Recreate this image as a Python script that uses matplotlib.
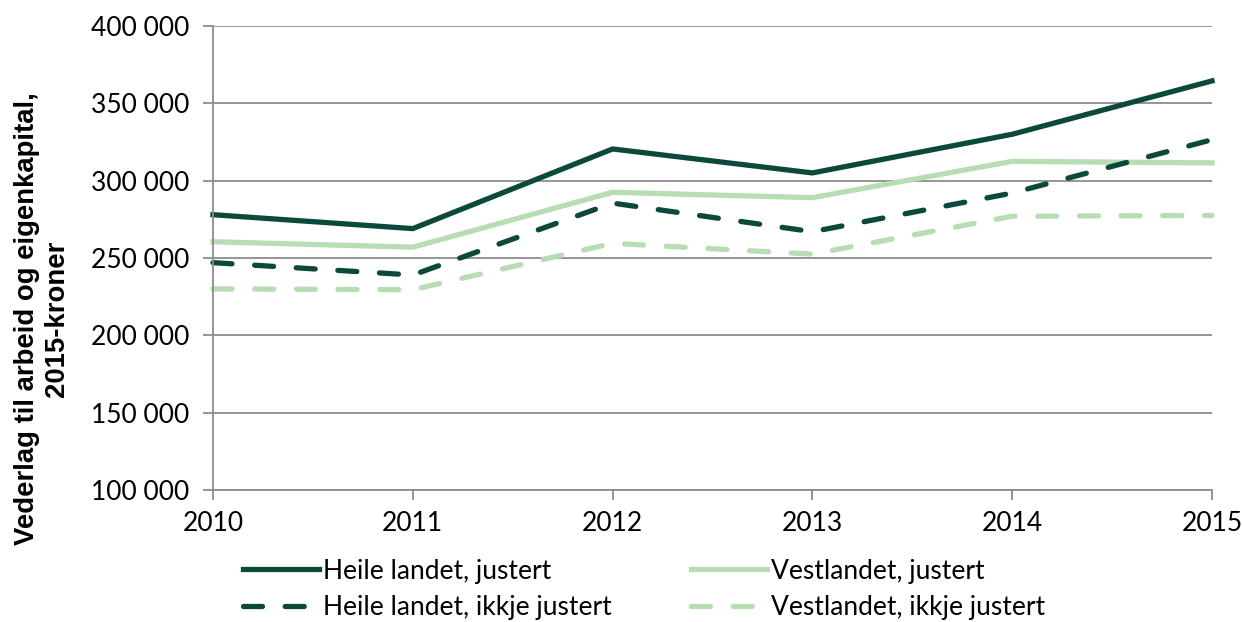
import numpy as np
import matplotlib.pyplot as plt
from matplotlib.ticker import MultipleLocator, FuncFormatter

# verdiar lest av figuren
aar = [2010, 2011, 2012, 2013, 2014, 2015]
heile_justert = [278000, 269000, 320500, 305000, 330000, 364500]
vest_justert = [260500, 257000, 292500, 289000, 312500, 311500]
heile_ikkje = [247000, 239000, 285500, 267000, 292000, 326500]
vest_ikkje = [230000, 229500, 259500, 252500, 277000, 277500]

mork = '#0b4a3b'
lys = '#b8dcb4'

fig = plt.figure(figsize=(12.42, 6.22), dpi=100)
ax = fig.add_axes([213/1242, 1-490/622, (1212-213)/1242, (490-26)/622])

lw = 3.8
l1, = ax.plot(aar, heile_justert, color=mork, lw=lw, label='Heile landet, justert', clip_on=False)
l2, = ax.plot(aar, vest_justert, color=lys, lw=lw, label='Vestlandet, justert', clip_on=False)
l3, = ax.plot(aar, heile_ikkje, color=mork, lw=lw, dashes=(3.6, 4.3), dash_capstyle='round',
              label='Heile landet, ikkje justert', clip_on=False)
l4, = ax.plot(aar, vest_ikkje, color=lys, lw=lw, dashes=(3.6, 4.3), dash_capstyle='round',
              label='Vestlandet, ikkje justert', clip_on=False)

ax.set_xlim(2010, 2015)
ax.set_ylim(100000, 400000)
ax.yaxis.set_major_locator(MultipleLocator(50000))
ax.xaxis.set_major_locator(MultipleLocator(1))
ax.yaxis.set_major_formatter(FuncFormatter(lambda v, p: f"{int(v):,}".replace(',', ' ')))
ax.xaxis.set_major_formatter(FuncFormatter(lambda v, p: f"{int(v)}"))

ax.grid(axis='y', color='#8c8c8c', lw=1.3)
ax.set_axisbelow(True)
for s in ['top', 'right']:
    ax.spines[s].set_visible(False)
for s in ['left', 'bottom']:
    ax.spines[s].set_color('#8c8c8c')
    ax.spines[s].set_linewidth(1.3)
ax.tick_params(axis='both', colors='#8c8c8c', length=7, width=1.3, direction='out')
ax.tick_params(axis='both', labelcolor='black', labelsize=19)
ax.tick_params(axis='y', pad=10)
ax.tick_params(axis='x', pad=8)
for t in ax.get_xticklabels() + ax.get_yticklabels():
    t.set_fontfamily('Lato')

fig.text(0.034, 303/622, 'Vederlag til arbeid og eigenkapital,\n2015-kroner', rotation=90,
         ha='center', va='center', fontsize=19.8, fontweight='bold', fontfamily='Liberation Sans',
         linespacing=1.2, multialignment='center')

fig.legend(handles=[l1, l3, l2, l4], ncol=2, frameon=False, loc='upper left',
           bbox_to_anchor=(232/1242, 1-548/622), prop={'family': 'Lato', 'size': 19},
           handlelength=2.9, handletextpad=0.15, columnspacing=3.0, labelspacing=0.45,
           borderaxespad=0)

fig.savefig('out.png', dpi=100)
